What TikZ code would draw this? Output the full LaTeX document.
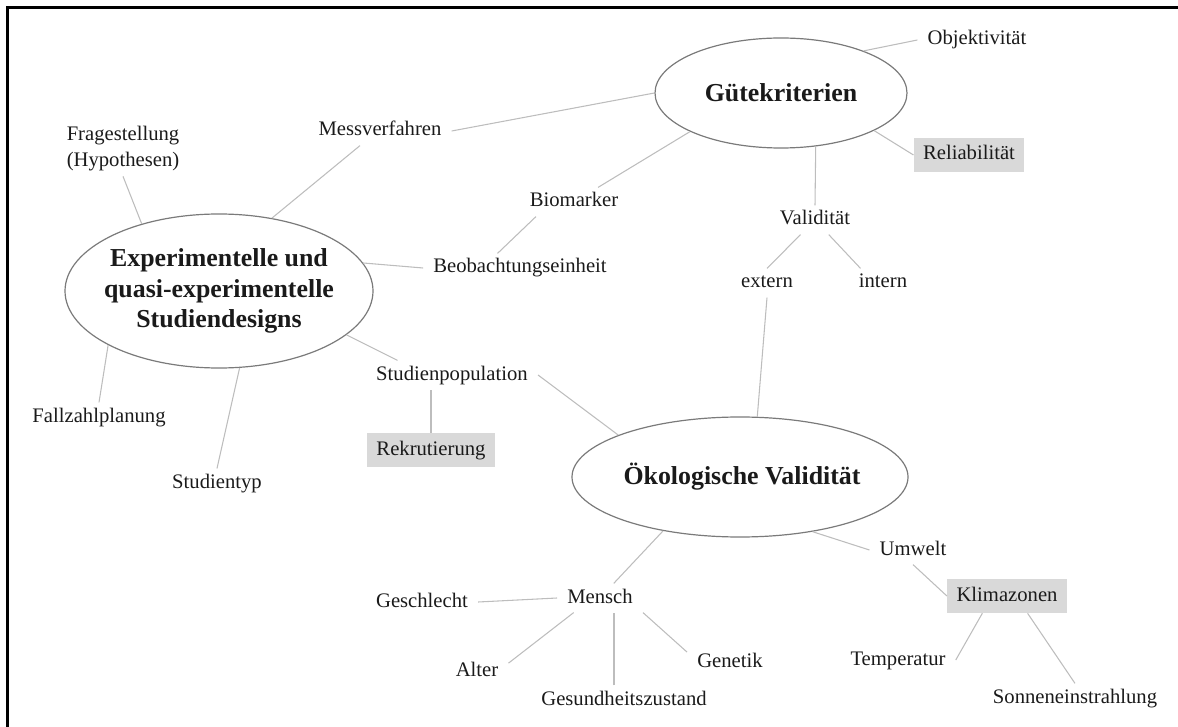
\documentclass[tikz,border=0pt]{standalone}
\usepackage{fontspec}
\setmainfont{Liberation Serif}
\usetikzlibrary{shapes.geometric}
\definecolor{txt}{HTML}{1A1A1A}
\definecolor{linegray}{HTML}{BDBDBD}
\definecolor{ellc}{HTML}{7A7A7A}
\definecolor{boxgray}{HTML}{D9D9D9}
\newcommand\mynormal{\fontsize{15.5pt}{19.5pt}\selectfont}
\newcommand\mybold{\fontsize{19.4pt}{22.9pt}\selectfont\bfseries}
\begin{document}
\begin{tikzpicture}[x=0.75pt,y=-0.75pt,
  lbl/.style={font=\mynormal, text=txt, inner xsep=7.5pt, inner ysep=3.5pt, text height=11pt, text depth=3.5pt},
  gbox/.style={lbl, fill=boxgray, inner xsep=7pt, inner ysep=5.5pt},
  bigell/.style={ellipse, draw=ellc, line width=0.9pt, inner sep=0pt},
  title/.style={font=\mybold, text=txt, align=center, inner sep=0pt},
  link/.style={draw=linegray, line width=0.8pt}]
\useasboundingbox (0,0) rectangle (1178,727);
\draw[line width=2.25pt, black] (7.5,727) -- (7.5,7.5) -- (1178,7.5);

% ellipses
\node[bigell, minimum width=189pt, minimum height=82.5pt] (guete) at (781,93) {};
\node[title] (guetet) at (guete) {Gütekriterien};
\node[bigell, minimum width=231pt, minimum height=115.5pt] (exp) at (219,291) {};
\node[title] (expt) at (exp) {Experimentelle und\\quasi-experimentelle\\Studiendesigns};
\node[bigell, minimum width=252pt, minimum height=90pt] (oeko) at (740,477) {};
\node[title] (oekot) at (742,477) {Ökologische Validität};

% labels
\node[lbl] (obj) at (977,40) {Objektivität};
\node[lbl] (mess) at (380,131) {Messverfahren};
\node[gbox] (reli) at (969,155) {Reliabilität};
\node[font=\mynormal, text=txt, align=center, inner sep=3.5pt] (frag) at (123,149) {Fragestellung\\(Hypothesen)};
\node[lbl] (bio) at (574,202) {Biomarker};
\node[lbl] (vali) at (815,220) {Validität};
\node[lbl] (beob) at (520,268) {Beobachtungseinheit};
\node[lbl] (extern) at (767,283) {extern};
\node[lbl] (intern) at (883,283) {intern};
\node[lbl] (studpop) at (452,375) {Studienpopulation};
\node[lbl] (fall) at (99,417) {Fallzahlplanung};
\node[gbox] (rekr) at (431,450) {Rekrutierung};
\node[lbl] (styp) at (217,483) {Studientyp};
\node[lbl] (umwelt) at (913,550) {Umwelt};
\node[gbox] (klima) at (1007,596) {Klimazonen};
\node[lbl] (mensch) at (600,598) {Mensch};
\node[lbl] (geschl) at (422,602) {Geschlecht};
\node[lbl] (temp) at (898,660) {Temperatur};
\node[lbl] (genetik) at (730,662) {Genetik};
\node[lbl] (alter) at (477,671) {Alter};
\node[lbl] (sonne) at (1075,698) {Sonneneinstrahlung};
\node[lbl] (gesund) at (624,700) {Gesundheitszustand};

% connectors
\draw[link] (guete.27) -- (obj.west);
\draw[link] (guete.180) -- (mess.east);
\draw[link] (guete.203) -- (bio);
\draw[link] (guete.-57) -- (vali.north);
\draw[link] (guete.-22) -- (reli.west);
\draw[link] (vali) -- (extern.north);
\draw[link] (vali) -- (intern.147);
\draw[link] (extern.south) -- (oeko.74);
\draw[link] (exp.139) -- (frag.south);
\draw[link] (exp.54) -- ([xshift=-15pt]mess.south);
\draw[link] (exp.11) -- (beob.west);
\draw[link] (bio.201) -- (beob.147);
\draw[link] (exp.-19) -- (studpop.165);
\draw[link] (exp.206) -- (fall.north);
\draw[link] (exp.-75) -- (styp.north);
\draw[link] (rekr.north) -- (rekr.north |- studpop.south);
\draw[link] (studpop.east) -- (oeko.161);
\draw[link] (oeko.215) -- (mensch);
\draw[link] (mensch.west) -- (geschl.east);
\draw[link] (mensch.209) -- (alter.14);
\draw[link] ([xshift=-7.5pt]gesund.north) -- ([xshift=-7.5pt]gesund.north |- mensch.south);
\draw[link] (mensch.south east) -- (genetik.167);
\draw[link] (oeko.-37) -- (umwelt.west);
\draw[link] (umwelt.south) -- (klima.west);
\draw[link] (klima.215) -- (temp.east);
\draw[link] (klima.-40) -- (sonne.north);
\end{tikzpicture}
\end{document}
